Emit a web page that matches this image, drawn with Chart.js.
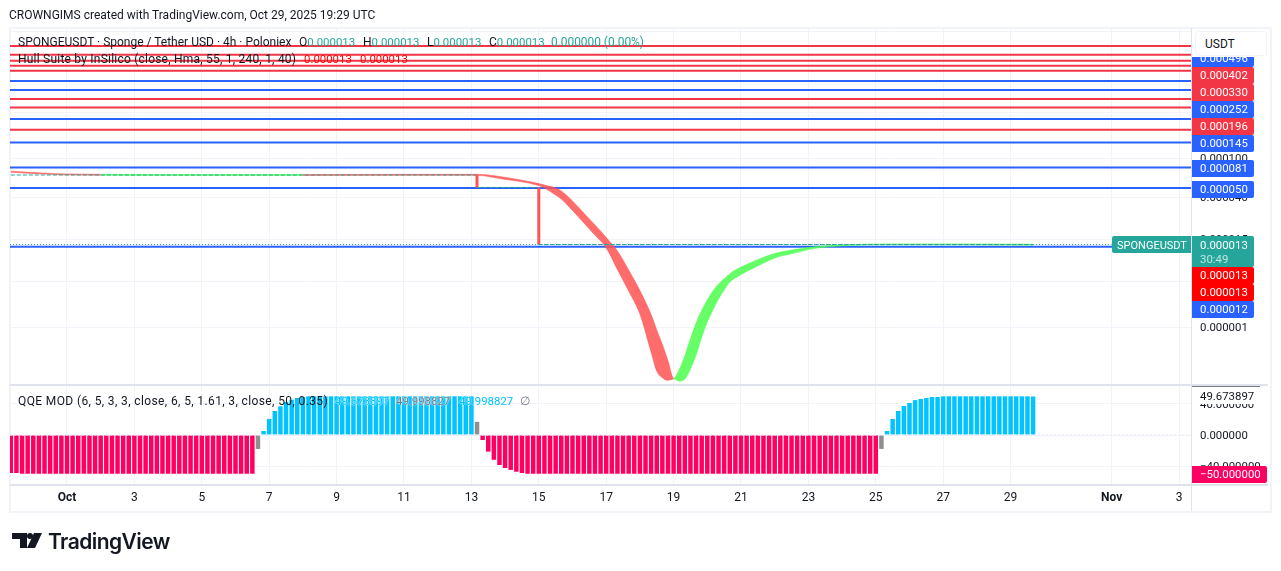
<!DOCTYPE html>
<html lang="en">
<head>
    <meta charset="UTF-8">
    <title>SPONGEUSDT</title>
    <script src="https://cdn.jsdelivr.net/npm/chart.js"></script>
    <style>
        body { margin: 0; background: #fff; font-family: Roboto, sans-serif; font-size: 12px; color: #131722; overflow: hidden; }
        canvas { position: absolute; left: 0; top: 0; }
        .frame { position: absolute; left: 9px; top: 27px; width: 1259px; height: 482px; border: 2px solid #f0f3fa; }
        .t { position: absolute; white-space: pre; line-height: 14px; }
        .num { font-size: 11.4px; text-shadow: 0 0 1px #fff, 0 0 2px #fff; }
        .up { color: #26a69a; font-size: 11.4px; }
        .hull { color: #ff0000; font-size: 11.4px; }
        .cyan { color: #00c3ff; font-size: 11.4px; text-shadow: 0 0 1px #fff, 0 0 2px #fff; }
        .usdt { position: absolute; left: 1195px; top: 31px; width: 72px; height: 25px; background: #fff; border: 1px solid #f0f3fa; border-radius: 4px; box-sizing: border-box; padding: 5px 9px; }
        .brand { position: absolute; left: 48px; top: 529px; font: 600 21px Inter, sans-serif; letter-spacing: -0.55px; color: #131722; }
        svg { position: absolute; left: 12px; top: 533px; }
    </style>
</head>
<body>
    <div class="frame"></div>
    <canvas id="chart" width="1281" height="571"></canvas>

    <div class="t" style="left:9px;top:8px">CROWNGIMS created with TradingView.com, Oct 29, 2025 19:29 UTC</div>

    <div class="t" style="left:18px;top:35px">SPONGEUSDT · Sponge / Tether USD · 4h · Poloniex</div>
    <div class="t" style="left:299px;top:35px">O<span class="up">0.000013</span></div>
    <div class="t" style="left:363px;top:35px">H<span class="up">0.000013</span></div>
    <div class="t" style="left:427px;top:35px">L<span class="up">0.000013</span></div>
    <div class="t" style="left:489px;top:35px">C<span class="up">0.000013</span></div>
    <div class="t up" style="left:551px;top:35px;font-size:11.9px">0.000000 (0.00%)</div>

    <div class="t" style="left:18px;top:52px;letter-spacing:0.22px">Hull Suite by InSilico (close, Hma, 55, 1, 240, 1, 40)</div>
    <div class="t hull" style="left:304px;top:52px">0.000013</div>
    <div class="t hull" style="left:360px;top:52px">0.000013</div>

    <div class="t" style="left:18px;top:394px;letter-spacing:0.38px">QQE MOD (6, 5, 3, 3, close, 6, 5, 1.61, 3, close, 50, 0.35)</div>
    <div class="t cyan" style="left:335px;top:394px">49.673897</div>
    <div class="t num" style="left:396px;top:394px;color:#787b86">49.998827</div>
    <div class="t cyan" style="left:459px;top:394px">49.998827</div>
    <div class="t" style="left:520px;top:394px;color:#787b86">∅</div>

    <div class="usdt">USDT</div>

    <svg width="30" height="16" viewBox="0 0 30 16"><path d="M0 0H15V15H8V6H0Z M22 0H30L23 15H15Z" fill="#131722"/><circle cx="18" cy="3" r="3" fill="#131722"/></svg>
    <div class="brand">TradingView</div>

    <script>
        // prices are in millionths of USDT, x positions are days counted from Oct 1 = 1
        const firstBarDay = -2 / 3;
        const xFirstDay = -0.691;
        const xLastDay = 34.353;

        const xTickDays = [1, 3, 5, 7, 9, 11, 13, 15, 17, 19, 21, 23, 25, 27, 29, 32, 34];
        const xTickLabels = ['Oct', '3', '5', '7', '9', '11', '13', '15', '17', '19', '21', '23', '25', '27', '29', 'Nov', '3'];

        const priceTicks = [1977, 290, 100, 40, 15, 5.6, 1.9];
        const qqeTicks = [40, 0, -40];

        const levelValues = [1391, 1135, 986, 877, 780, 613, 496, 402, 330, 252, 196, 145, 81, 50, 12.6];
        const levelKinds = ['r', 'r', 'r', 'r', 'r', 'b', 'b', 'r', 'r', 'b', 'r', 'b', 'b', 'b', 'b'];

        const lastPrice = 13.3;

        // stepped close of the 4h bars
        const closeBars = [0, 83, 83, 94, 94, 182];
        const closeValues = [67.8, 67.8, 50.6, 50.6, 13.3, 13.3];

        // Hull band, upper and lower edge
        const hullBars = [0, 8, 16, 30, 46, 52, 83, 87, 94, 95, 97, 98, 100, 102, 104, 106, 108, 110, 112, 114, 115, 116, 117, 118,
            119, 120, 121, 122, 123, 124, 125, 126, 127, 128, 129, 131, 133, 136, 139, 143, 148, 156, 170, 182];
        const hullUpper = [74.1, 70.0, 68.9, 68.6, 68.6, 68.6, 68.9, 65.5, 55.4, 53.6, 50, 46.6, 36.9, 27.8, 21.0, 15.7, 11.4, 7.32, 4.53, 2.58, 1.80, 1.28, 0.873, 0.583,
            0.711, 0.984, 1.46, 2.12, 2.83, 3.63, 4.48, 5.28, 5.96, 6.67, 7.32, 8.33, 9.37, 10.8, 11.7, 12.6, 13.2, 13.5, 13.5, 13.4];
        const hullLower = [72.4, 68.4, 67.3, 67.0, 67.0, 67.0, 67.3, 62.5, 52.9, 50, 42.4, 38.6, 29.5, 22.2, 16.6, 12.3, 7.41, 4.48, 2.61, 1.07, 0.687, 0.588, 0.553, 0.570,
            0.544, 0.570, 0.721, 1.00, 1.52, 2.17, 2.87, 3.71, 4.59, 5.53, 6.07, 7.07, 8.05, 9.70, 10.7, 12.1, 12.9, 13.2, 13.2, 13.1];
        const hullRising = [0, 0, 1, 1, 1, 0, 0, 0, 0, 0, 0, 0, 0, 0, 0, 0, 0, 0, 0, 0, 0, 0, 0, 1,
            1, 1, 1, 1, 1, 1, 1, 1, 1, 1, 1, 1, 1, 1, 1, 1, 1, 1, 1, 1];

        const qqeValues = [
            -49, -49, -50, -50, -50, -50, -50, -50, -50, -50,
            -50, -50, -50, -50, -50, -50, -50, -50, -50, -50,
            -50, -50, -50, -50, -50, -50, -50, -50, -50, -50,
            -50, -50, -50, -50, -50, -50, -50, -50, -50, -50,
            -50, -50, -50, -50, -18, 5.2, 20.6, 31, 37, 42.6,
            45.5, 47.7, 49, 49.9, 49.9, 49.9, 49.9, 49.9, 49.9, 49.9,
            49.9, 49.9, 49.9, 49.9, 49.9, 49.9, 49.9, 49.9, 49.9, 49.9,
            49.9, 49.9, 49.9, 49.9, 49.9, 49.9, 49.9, 49.9, 49.9, 49.9,
            49.9, 49.9, 49.9, 17, -6.5, -21.5, -32, -38.7, -42.6, -45,
            -47.4, -49, -50, -50, -50, -50, -50, -50, -50, -50,
            -50, -50, -50, -50, -50, -50, -50, -50, -50, -50,
            -50, -50, -50, -50, -50, -50, -50, -50, -50, -50,
            -50, -50, -50, -50, -50, -50, -50, -50, -50, -50,
            -50, -50, -50, -50, -50, -50, -50, -50, -50, -50,
            -50, -50, -50, -50, -50, -50, -50, -50, -50, -50,
            -50, -50, -50, -50, -50, -18, 5.2, 20.6, 31, 37.4,
            41.3, 45, 46.5, 47.7, 49, 49, 49.9, 49.9, 49.9, 49.9,
            49.9, 49.9, 49.9, 49.9, 49.9, 49.9, 49.9, 49.9, 49.9, 49.9,
            49.9, 49.9, 49.67
        ];
        const qqeGrayBars = [44, 83, 155];

        const RED = '#f23645';
        const BLUE = '#2962ff';
        const TEAL = '#26a69a';
        const HULL_RED = 'rgba(255, 82, 82, 0.85)';
        const HULL_GREEN = 'rgba(76, 255, 76, 0.85)';
        const CYAN = '#00c3ff';
        const PINK = '#ff0062';
        const GRAY = '#8f8f8f';
        const GRID = '#f0f3fa';
        const EDGE = '#e0e3eb';
        const INK = '#131722';
        const FONT = '11.4px Roboto, sans-serif';

        const barDay = n => firstBarDay + n / 6;
        const priceText = v => '0.' + String(Math.floor(v + 1e-9)).padStart(6, '0');
        const hullSegment = {
            borderColor: c => hullRising[c.p0DataIndex] ? HULL_GREEN : HULL_RED,
            backgroundColor: c => hullRising[c.p0DataIndex] ? HULL_GREEN : HULL_RED
        };

        // price axis badges: stacked upward / downward so they don't overlap, like the real chart
        const axisBadges = {
            id: 'axisBadges',
            afterDraw(chart) {
                const { ctx, scales: { y, yq, x } } = chart;
                const left = x.right + 1;
                const right = 1254;
                const h = 17;

                ctx.save();
                ctx.strokeStyle = EDGE;
                ctx.lineWidth = 2;
                ctx.beginPath();
                ctx.moveTo(x.left, y.bottom);
                ctx.lineTo(1268, y.bottom);
                ctx.moveTo(x.left, yq.bottom);
                ctx.lineTo(1268, yq.bottom);
                ctx.stroke();
                ctx.lineWidth = 1;
                ctx.beginPath();
                ctx.moveTo(x.right + 0.5, y.top);
                ctx.lineTo(x.right + 0.5, 511);
                ctx.stroke();

                ctx.font = FONT;
                ctx.textBaseline = 'middle';
                const badge = (cy, color, text, w) => {
                    ctx.fillStyle = color;
                    ctx.beginPath();
                    ctx.roundRect(left, Math.round(cy - h / 2), w || right - left, h, [0, 2, 2, 0]);
                    ctx.fill();
                    ctx.fillStyle = '#fff';
                    ctx.fillText(text, 1200, Math.round(cy - h / 2) + h / 2 + 1);
                };

                // levels above the last price, pushed up from the lowest, cut off by the USDT box
                ctx.save();
                ctx.beginPath();
                ctx.rect(left, 57, 90, y.bottom - 57);
                ctx.clip();
                let prev = Infinity;
                for (let i = levelValues.length - 2; i >= 0; i--) {
                    const cy = Math.min(y.getPixelForValue(levelValues[i]) + 1, prev - h);
                    badge(cy, levelKinds[i] === 'r' ? RED : BLUE, priceText(levelValues[i]));
                    prev = cy;
                }
                ctx.restore();

                // last price with countdown, symbol tag on the left of the axis
                const py = Math.round(y.getPixelForValue(lastPrice));
                const top = py - 9;
                ctx.fillStyle = TEAL;
                ctx.beginPath();
                ctx.roundRect(left, top, right - left, 31, [0, 2, 2, 0]);
                ctx.fill();
                ctx.beginPath();
                ctx.roundRect(1112, top, 79, 17, [2, 0, 0, 2]);
                ctx.fill();
                ctx.fillStyle = '#fff';
                ctx.fillText(priceText(lastPrice), 1200, top + 10);
                ctx.fillStyle = 'rgba(255, 255, 255, 0.7)';
                ctx.fillText('30:49', 1200, top + 24);
                ctx.font = '11px Roboto, sans-serif';
                ctx.fillStyle = '#fff';
                ctx.fillText('SPONGEUSDT', 1117, top + 10);
                ctx.font = FONT;

                // Hull values and the lowest level sit under it
                let cy = top + 31 + h / 2;
                badge(cy, '#ff0000', priceText(hullUpper[hullUpper.length - 1]));
                cy += h;
                badge(cy, '#ff0000', priceText(hullLower[hullLower.length - 1]));
                cy += h;
                badge(cy, BLUE, priceText(levelValues[levelValues.length - 1]));

                // QQE pane labels
                ctx.fillStyle = '#fff';
                ctx.fillRect(left, y.bottom + 1, 68, 18);
                ctx.fillStyle = '#787b86';
                ctx.fillRect(left, y.bottom + 1, 68, 1);
                ctx.fillStyle = INK;
                ctx.fillText('49.673897', 1200, yq.getPixelForValue(49.67) + 1);
                badge(yq.getPixelForValue(-50) + 1, PINK, '−50.000000', 1267 - left);
                ctx.restore();
            }
        };

        const levelSets = levelValues.map((v, i) => ({
            type: 'line',
            data: [{ x: xFirstDay, y: v }, { x: xLastDay, y: v }],
            borderColor: levelKinds[i] === 'r' ? RED : BLUE,
            borderWidth: 2,
            pointRadius: 0,
            yAxisID: 'y',
            order: 5
        }));

        const chart = new Chart(document.getElementById('chart'), {
            type: 'bar',
            data: {
                datasets: [
                    ...levelSets,
                    {
                        type: 'line',
                        data: hullBars.map((n, i) => ({ x: barDay(n), y: hullUpper[i] })),
                        borderWidth: 0.6,
                        borderColor: HULL_RED,
                        backgroundColor: HULL_RED,
                        segment: hullSegment,
                        fill: '+1',
                        cubicInterpolationMode: 'monotone',
                        pointRadius: 0,
                        yAxisID: 'y',
                        order: 3
                    },
                    {
                        type: 'line',
                        data: hullBars.map((n, i) => ({ x: barDay(n), y: hullLower[i] })),
                        borderWidth: 0.6,
                        borderColor: HULL_RED,
                        segment: hullSegment,
                        fill: false,
                        cubicInterpolationMode: 'monotone',
                        pointRadius: 0,
                        yAxisID: 'y',
                        order: 3
                    },
                    {
                        type: 'line',
                        data: closeBars.map((n, i) => ({ x: barDay(n), y: closeValues[i] })),
                        borderWidth: 1,
                        borderColor: TEAL,
                        borderDash: [4, 2],
                        segment: {
                            borderColor: c => c.p0.parsed.x === c.p1.parsed.x ? '#ff5252' : TEAL,
                            borderWidth: c => c.p0.parsed.x === c.p1.parsed.x ? 3 : 1,
                            borderDash: c => c.p0.parsed.x === c.p1.parsed.x ? [] : [4, 2]
                        },
                        pointRadius: 0,
                        yAxisID: 'y',
                        order: 2
                    },
                    {
                        type: 'line',
                        data: [{ x: xFirstDay, y: lastPrice }, { x: 32, y: lastPrice }],
                        borderWidth: 1,
                        borderColor: TEAL,
                        borderDash: [1, 2],
                        pointRadius: 0,
                        yAxisID: 'y',
                        order: 1
                    },
                    {
                        type: 'bar',
                        data: qqeValues.map((v, n) => ({ x: barDay(n), y: v })),
                        backgroundColor: qqeValues.map((v, n) => qqeGrayBars.includes(n) ? GRAY : v > 0 ? CYAN : PINK),
                        barThickness: 4.5,
                        inflateAmount: 0,
                        yAxisID: 'yq',
                        order: 2
                    },
                    {
                        type: 'line',
                        data: [{ x: xFirstDay, y: 0 }, { x: xLastDay, y: 0 }],
                        borderWidth: 1,
                        borderColor: '#e8eaf0',
                        borderDash: [2, 2],
                        pointRadius: 0,
                        yAxisID: 'yq',
                        order: 1
                    }
                ]
            },
            options: {
                responsive: false,
                animation: false,
                layout: { padding: { left: 10, top: 28, right: 11, bottom: 60 } },
                plugins: { legend: { display: false }, tooltip: { enabled: false } },
                scales: {
                    x: {
                        type: 'linear',
                        min: xFirstDay,
                        max: xLastDay,
                        offset: false,
                        afterBuildTicks: s => { s.ticks = xTickDays.map(v => ({ value: v })); },
                        afterFit: s => { s.height = 26; },
                        grid: { color: GRID, drawTicks: false, offset: false },
                        border: { display: false },
                        ticks: {
                            autoSkip: false,
                            maxRotation: 0,
                            padding: 6,
                            color: INK,
                            font: c => ({ family: 'Roboto, sans-serif', size: 12, weight: c.index === 0 || c.index === 15 ? 'bold' : 'normal' }),
                            callback: (v, i) => xTickLabels[i]
                        }
                    },
                    y: {
                        type: 'logarithmic',
                        position: 'right',
                        stack: 'panes',
                        stackWeight: 357,
                        weight: 1,
                        min: 0.4955,
                        max: 2121,
                        afterBuildTicks: s => { s.ticks = priceTicks.map(v => ({ value: v })); },
                        afterFit: s => { s.width = 79; },
                        grid: { color: GRID, drawTicks: false },
                        border: { display: false },
                        ticks: {
                            autoSkip: false,
                            padding: 9,
                            labelOffset: 1,
                            crossAlign: 'near',
                            color: INK,
                            font: { family: 'Roboto, sans-serif', size: 11.4 },
                            // the topmost tick is hidden behind the USDT box in the original
                            callback: v => v > 1000 ? '' : priceText(v)
                        }
                    },
                    yq: {
                        type: 'linear',
                        position: 'right',
                        stack: 'panes',
                        stackWeight: 100,
                        weight: 2,
                        min: -64.5,
                        max: 64.5,
                        afterBuildTicks: s => { s.ticks = qqeTicks.map(v => ({ value: v })); },
                        afterFit: s => { s.width = 79; },
                        grid: { color: GRID, drawTicks: false },
                        border: { display: false },
                        ticks: {
                            autoSkip: false,
                            padding: 9,
                            labelOffset: 1,
                            crossAlign: 'near',
                            color: INK,
                            font: { family: 'Roboto, sans-serif', size: 11.4 },
                            callback: v => (v < 0 ? '−' : '') + Math.abs(v).toFixed(6)
                        }
                    }
                }
            },
            plugins: [axisBadges]
        });
    </script>
</body>
</html>
